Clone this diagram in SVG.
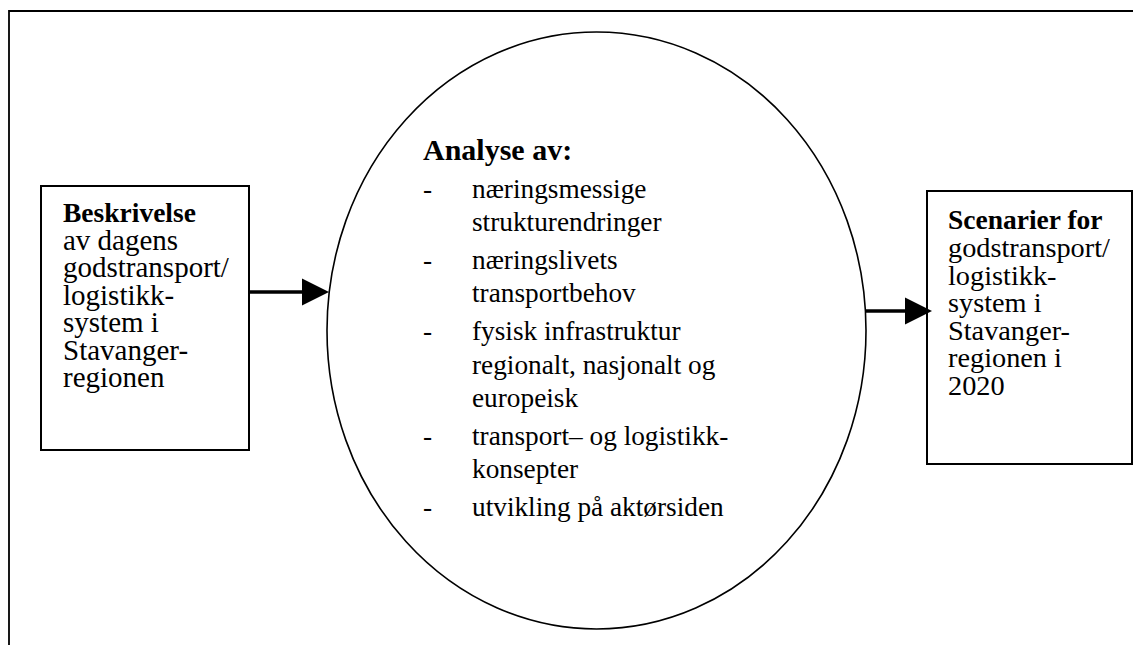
<svg xmlns="http://www.w3.org/2000/svg" width="1133" height="645" viewBox="0 0 1133 645">
<style>
text{font-family:"Liberation Serif","Times New Roman",Tinos,"DejaVu Serif",serif;fill:#000}
.t{font-size:27.3px;font-weight:normal}
.l{font-size:29px;font-weight:normal}
.r{font-size:28.3px;font-weight:normal}
.b{font-weight:bold;font-size:27.5px}
.h{font-size:30px;font-weight:bold}
.box{fill:#fff;stroke:#000;stroke-width:2}
.conn{stroke:#000;stroke-width:3.5;fill:none}
</style>
<rect width="1133" height="645" fill="#fff"/>
<path id="frame" d="M9,645 L9,11 L1133,11" fill="none" stroke="#000" stroke-width="1.8"/>
<g id="node-left">
<rect class="box" x="41" y="186" width="208" height="264"/>
<text class="b" x="63" y="222">Beskrivelse</text>
<text class="l" x="63" y="249.5">av dagens</text>
<text class="l" x="63" y="277">godstransport/</text>
<text class="l" x="63" y="304.5">logistikk-</text>
<text class="l" x="63" y="332">system i</text>
<text class="l" x="63" y="359.5">Stavanger-</text>
<text class="l" x="63" y="387">regionen</text>
</g>
<g id="node-center">
<ellipse cx="596.5" cy="330.5" rx="269.5" ry="298.5" fill="#fff" stroke="#000" stroke-width="1.6"/>
<text class="h" x="423" y="160">Analyse av:</text>
<text class="t" x="423" y="198">-</text>
<text class="t" x="472" y="198">næringsmessige</text>
<text class="t" x="472" y="231">strukturendringer</text>
<text class="t" x="423" y="269">-</text>
<text class="t" x="472" y="269">næringslivets</text>
<text class="t" x="472" y="302">transportbehov</text>
<text class="t" x="423" y="340">-</text>
<text class="t" x="472" y="340">fysisk infrastruktur</text>
<text class="t" x="472" y="374">regionalt, nasjonalt og</text>
<text class="t" x="472" y="407">europeisk</text>
<text class="t" x="423" y="445">-</text>
<text class="t" x="472" y="445">transport– og logistikk-</text>
<text class="t" x="472" y="478">konsepter</text>
<text class="t" x="423" y="516">-</text>
<text class="t" x="472" y="516">utvikling på aktørsiden</text>
</g>
<g id="node-right">
<rect class="box" x="927" y="191" width="205" height="273"/>
<text class="b" x="948" y="229">Scenarier for</text>
<text class="r" x="948" y="257">godstransport/</text>
<text class="r" x="948" y="284.5">logistikk-</text>
<text class="r" x="948" y="312">system i</text>
<text class="r" x="948" y="339.5">Stavanger-</text>
<text class="r" x="948" y="367">regionen i</text>
<text class="r" x="948" y="394.5">2020</text>
</g>
<g id="connectors">
<line class="conn" x1="249" y1="292" x2="304" y2="292"/>
<path d="M302,278.5 L329,292 L302,305.5 Z" fill="#000"/>
<line class="conn" x1="866" y1="311" x2="907" y2="311"/>
<path d="M905,297.5 L932,311 L905,324.5 Z" fill="#000"/>
</g>
</svg>
